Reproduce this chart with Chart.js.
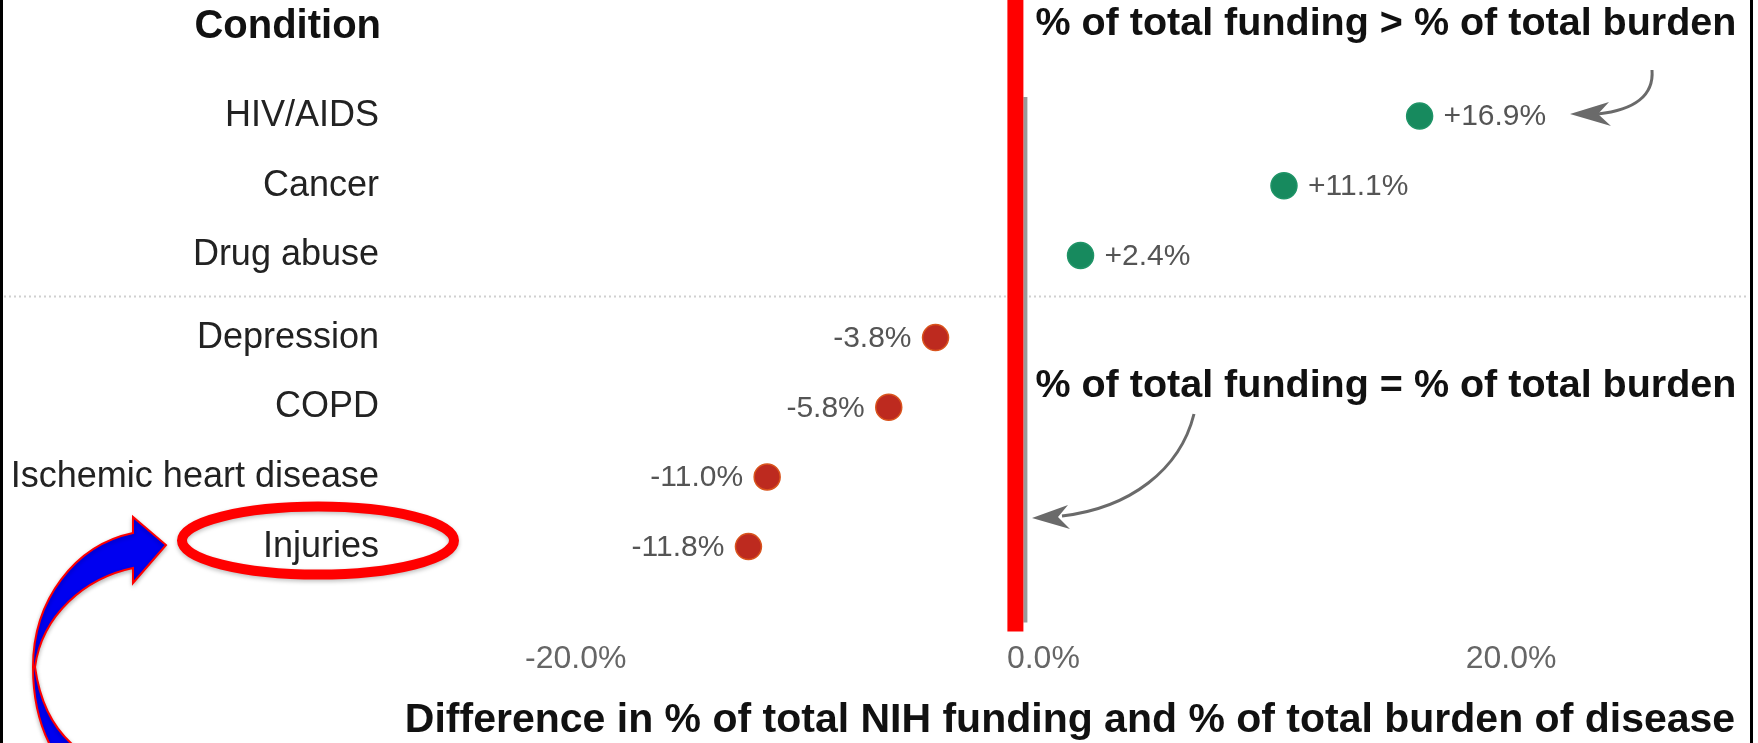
<!DOCTYPE html>
<html>
<head>
<meta charset="utf-8">
<script src="https://cdn.jsdelivr.net/npm/chart.js@4/dist/chart.umd.min.js"></script>
<style>
  html, body { margin: 0; padding: 0; background: #fff; }
  #wrap { width: 1758px; height: 743px; position: relative; }
</style>
</head>
<body>
<div id="wrap"><canvas id="gapChart"></canvas></div>
<script>
const conditions = ['HIV/AIDS', 'Cancer', 'Drug abuse', 'Depression', 'COPD', 'Ischemic heart disease', 'Injuries'];
const differences = [16.9, 11.1, 2.4, -3.8, -5.8, -11.0, -11.8];
const xTickValues = [-20, 0, 20];
const overFunded = 3; // first rows: funding share > burden share

const FONT = "'Liberation Sans', Arial, Helvetica, sans-serif";
const groupGap = 0.18;
const rowPos = conditions.map((c, i) => i + (i >= overFunded ? groupGap : 0));

const fmtPct = v => (v > 0 ? '+' : '') + v.toFixed(1) + '%';

const valueLabels = {
    id: 'valueLabels',
    afterDatasetsDraw(chart) {
        const ctx = chart.ctx;
        const meta = chart.getDatasetMeta(0);
        ctx.save();
        ctx.font = '30px ' + FONT;
        ctx.fillStyle = '#555';
        ctx.textBaseline = 'middle';
        meta.data.forEach((pt, i) => {
            const v = differences[i];
            if (v >= 0) {
                ctx.textAlign = 'left';
                ctx.fillText(fmtPct(v), pt.x + 24, pt.y + 1);
            } else {
                ctx.textAlign = 'right';
                ctx.fillText(fmtPct(v), pt.x - 24, pt.y + 1);
            }
        });
        ctx.restore();
    }
};

const decorations = {
    id: 'decorations',
    beforeDraw(chart) {
        const {ctx, width, height} = chart;
        const xs = chart.scales.x, ys = chart.scales.y;
        ctx.save();
        ctx.fillStyle = '#fff';
        ctx.fillRect(0, 0, width, height);
        // dotted separator between the two groups
        const sepY = ys.getPixelForValue((rowPos[overFunded - 1] + rowPos[overFunded]) / 2);
        ctx.strokeStyle = '#d0d0d0';
        ctx.lineWidth = 2;
        ctx.setLineDash([2, 3]);
        ctx.beginPath();
        ctx.moveTo(4, sepY);
        ctx.lineTo(1748, sepY);
        ctx.stroke();
        ctx.setLineDash([]);
        // original grey zero line
        const zx = xs.getPixelForValue(0);
        ctx.strokeStyle = '#999';
        ctx.lineWidth = 4;
        ctx.beginPath();
        ctx.moveTo(zx + 1, 97);
        ctx.lineTo(zx + 1, chart.chartArea.bottom - 7);
        ctx.stroke();
        ctx.restore();
    },
    afterDraw(chart) {
        const {ctx, width, height} = chart;
        const xs = chart.scales.x, ys = chart.scales.y;
        const zx = xs.getPixelForValue(0);
        ctx.save();

        // red marker over the zero line
        ctx.fillStyle = '#ff0000';
        ctx.fillRect(zx - 17, 0, 16, chart.chartArea.bottom + 2);

        // headings
        ctx.fillStyle = '#111';
        ctx.textBaseline = 'alphabetic';
        ctx.font = 'bold 40px ' + FONT;
        ctx.textAlign = 'right';
        ctx.fillText('Condition', ys.right - 19, 38);
        ctx.font = 'bold 39.5px ' + FONT;
        ctx.textAlign = 'left';
        ctx.fillText('% of total funding > % of total burden', zx + 11, 35);
        ctx.fillText('% of total funding = % of total burden', zx + 11, 397);

        // grey hand-drawn arrows
        ctx.strokeStyle = '#6a6a6a';
        ctx.fillStyle = '#6a6a6a';
        ctx.lineWidth = 3;
        ctx.beginPath();
        ctx.moveTo(1652, 70);
        ctx.bezierCurveTo(1654, 95, 1635, 110, 1598, 114);
        ctx.stroke();
        ctx.beginPath();
        ctx.moveTo(1570, 114);
        ctx.lineTo(1609, 102);
        ctx.lineTo(1598, 114);
        ctx.lineTo(1611, 126);
        ctx.closePath();
        ctx.fill();

        ctx.beginPath();
        ctx.moveTo(1194, 414);
        ctx.bezierCurveTo(1180, 470, 1130, 508, 1062, 516);
        ctx.stroke();
        ctx.beginPath();
        ctx.moveTo(1032, 518);
        ctx.lineTo(1068, 505);
        ctx.lineTo(1058, 517);
        ctx.lineTo(1070, 529);
        ctx.closePath();
        ctx.fill();

        // red ellipse round "Injuries"
        const injY = ys.getPixelForValue(rowPos[rowPos.length - 1]);
        ctx.shadowColor = 'rgba(0,0,0,0.25)';
        ctx.shadowBlur = 4;
        ctx.shadowOffsetY = 2;
        ctx.strokeStyle = '#ff0000';
        ctx.lineWidth = 10;
        ctx.beginPath();
        ctx.ellipse(318, injY - 6, 136, 34, 0, 0, Math.PI * 2);
        ctx.stroke();

        // blue curved arrow
        ctx.fillStyle = '#0000f0';
        ctx.strokeStyle = '#ff0000';
        ctx.lineWidth = 2;
        ctx.beginPath();
        ctx.moveTo(50, 745);
        ctx.quadraticCurveTo(33, 712, 33, 667);
        ctx.bezierCurveTo(33, 600, 75, 545, 133, 533);
        ctx.lineTo(133, 517);
        ctx.lineTo(166, 545);
        ctx.lineTo(133, 583);
        ctx.lineTo(133, 568);
        ctx.bezierCurveTo(85, 578, 42, 615, 35, 667);
        ctx.quadraticCurveTo(42, 718, 73, 745);
        ctx.closePath();
        ctx.fill();
        ctx.stroke();
        ctx.shadowColor = 'transparent';

        // frame
        ctx.fillStyle = '#000';
        ctx.fillRect(0, 0, 3, height);
        ctx.fillRect(1750, 0, 3, height);
        ctx.restore();
    }
};

new Chart(document.getElementById('gapChart'), {
    type: 'scatter',
    data: {
        datasets: [{
            data: differences.map((v, i) => ({x: v, y: rowPos[i]})),
            pointRadius: 13,
            pointHoverRadius: 13,
            pointBackgroundColor: differences.map(v => v >= 0 ? '#178a5e' : '#bd2a1f'),
            pointBorderColor: differences.map(v => v >= 0 ? '#1f9467' : '#d9541d'),
            pointBorderWidth: 1.5
        }]
    },
    options: {
        responsive: true,
        maintainAspectRatio: false,
        devicePixelRatio: 1,
        animation: false,
        layout: { padding: { top: 75, right: 18, left: 0, bottom: 0 } },
        plugins: { legend: { display: false }, tooltip: { enabled: false } },
        scales: {
            x: {
                type: 'linear',
                min: -26.7,
                max: 30.6,
                afterBuildTicks: s => { s.ticks = xTickValues.map(v => ({value: v})); },
                grid: { display: false, drawTicks: false },
                border: { display: false },
                ticks: {
                    padding: 10,
                    labelOffset: 19,
                    color: '#666',
                    font: { family: FONT, size: 32 },
                    callback: v => v.toFixed(1) + '%'
                },
                title: {
                    display: true,
                    text: 'Difference in % of total NIH funding and % of total burden of disease',
                    color: '#111',
                    font: { family: FONT, size: 41, weight: 'bold', lineHeight: 1.1 },
                    padding: { top: 10, bottom: 0 }
                }
            },
            y: {
                type: 'linear',
                reverse: true,
                min: -0.59,
                max: 7.37,
                afterFit: s => { s.width = 400; },
                afterBuildTicks: s => { s.ticks = rowPos.map(p => ({value: p})); },
                grid: { display: false, drawTicks: false },
                border: { display: false },
                ticks: {
                    padding: 21,
                    color: '#222',
                    font: { family: FONT, size: 36 },
                    callback: (v, i) => conditions[i]
                }
            }
        }
    },
    plugins: [decorations, valueLabels]
});
</script>
</body>
</html>
